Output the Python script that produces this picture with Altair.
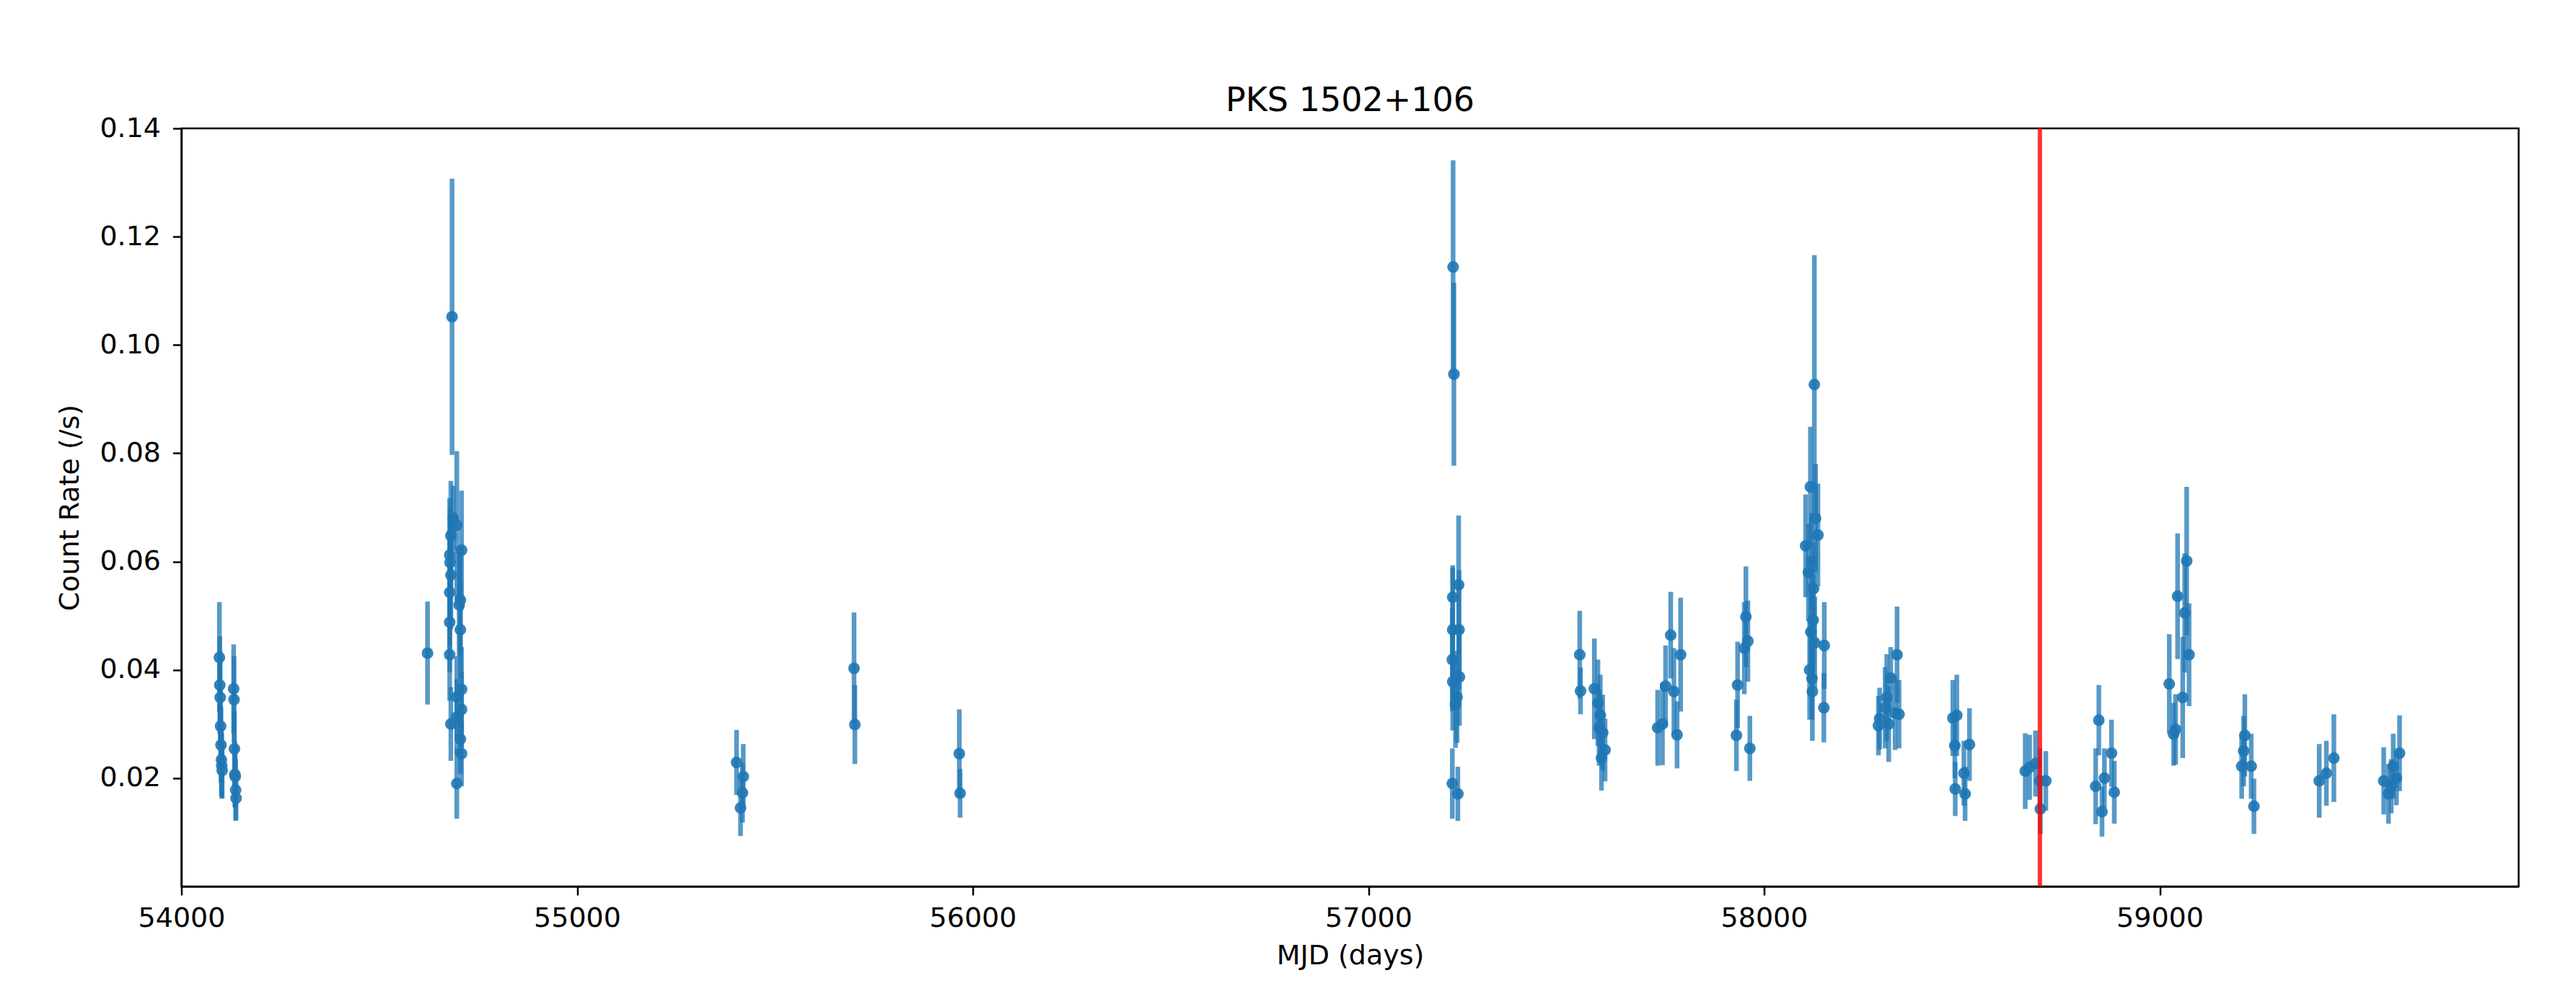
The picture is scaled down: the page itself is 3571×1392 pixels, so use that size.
import altair as alt
import pandas as pd

mjd = [
    54096, 54097, 54098, 54099, 54100, 54101, 54102, 54103,
    54132, 54133, 54134, 54135, 54136, 54137, 54138,
    54622,
    54684, 54681, 54687, 54696, 54708, 54678, 54679, 54681, 54678, 54705, 54702,
    54678, 54705, 54678, 54708, 54696, 54708, 54696, 54681, 54705, 54708, 54696,
    55403, 55420, 55418, 55413,
    55700, 55702,
    55966, 55968,
    57214, 57216, 57228, 57213, 57229, 57213, 57212, 57230, 57213, 57224, 57220, 57212, 57226,
    57534, 57536,
    57571, 57580, 57586, 57583, 57592, 57598, 57589,
    57731, 57743, 57751, 57764, 57772, 57780, 57789,
    57933, 57954, 57959, 57930, 57964, 57950,
    58127, 58117, 58130, 58136, 58105, 58120, 58112, 58125, 58124, 58152, 58121, 58151,
    58118, 58128, 58115, 58122,
    58289, 58292, 58306, 58310, 58315, 58320, 58336, 58341, 58331,
    58477, 58487, 58482, 58519, 58483, 58505, 58508,
    58660, 58671, 58686, 58697, 58712, 58698,
    58846, 58838, 58854, 58860, 58878, 58885,
    59024, 59035, 59045, 59063, 59068, 59074, 59058, 59040,
    59215, 59207, 59231, 59238, 59212,
    59403, 59421, 59440,
    59566, 59578, 59590, 59606, 59598, 59585,
]
rate = [
    0.0423, 0.0372, 0.0349, 0.0296, 0.0261, 0.0234, 0.0223, 0.0214,
    0.0365, 0.0345, 0.0254, 0.0207, 0.0203, 0.0178, 0.0163,
    0.0431,
    0.1052, 0.0648, 0.0680, 0.0667, 0.0621, 0.0612, 0.0598, 0.0575, 0.0543, 0.0529, 0.0520,
    0.0488, 0.0474, 0.0428, 0.0364, 0.0350, 0.0327, 0.0313, 0.0300, 0.0272, 0.0245, 0.0190,
    0.0229, 0.0203, 0.0173, 0.0145,
    0.0403, 0.0299,
    0.0245, 0.0172,
    0.1144, 0.0946, 0.0557, 0.0534, 0.0474, 0.0474, 0.0419, 0.0387, 0.0378, 0.0350, 0.0336, 0.0190, 0.0171,
    0.0428, 0.0361,
    0.0365, 0.0339, 0.0316, 0.0293, 0.0284, 0.0252, 0.0237,
    0.0293, 0.0300, 0.0370, 0.0464, 0.0360, 0.0280, 0.0428,
    0.0372, 0.0498, 0.0453, 0.0279, 0.0255, 0.0440,
    0.0927, 0.0738, 0.0680, 0.0649, 0.0629, 0.0600, 0.0580, 0.0550, 0.0492, 0.0445, 0.0384, 0.0330,
    0.0470, 0.0450, 0.0400, 0.0360,
    0.0297, 0.0310, 0.0330, 0.0349, 0.0300, 0.0385, 0.0428, 0.0318, 0.0320,
    0.0311, 0.0316, 0.0260, 0.0262, 0.0180, 0.0209, 0.0171,
    0.0213, 0.0220, 0.0227, 0.0195, 0.0195, 0.0143,
    0.0307, 0.0185, 0.0138, 0.0200, 0.0246, 0.0174,
    0.0374, 0.0281, 0.0536, 0.0505, 0.0601, 0.0428, 0.0349, 0.0290,
    0.0279, 0.0222, 0.0222, 0.0148, 0.0250,
    0.0195, 0.0209, 0.0237,
    0.0195, 0.0171, 0.0222, 0.0246, 0.0200, 0.0185,
]
err = [
    0.0102, 0.0090, 0.0085, 0.0075, 0.0070, 0.0068, 0.0060, 0.0052,
    0.0082, 0.0080, 0.0070, 0.0060, 0.0058, 0.0057, 0.0040,
    0.0095,
    0.0255, 0.0101, 0.0060, 0.0137, 0.0110, 0.0105, 0.0100, 0.0100, 0.0098, 0.0098, 0.0095,
    0.0092, 0.0090, 0.0085, 0.0078, 0.0075, 0.0070, 0.0070, 0.0068, 0.0064, 0.0060, 0.0065,
    0.0060, 0.0060, 0.0055, 0.0052,
    0.0103, 0.0073,
    0.0082, 0.0045,
    0.0197, 0.0169, 0.0128, 0.0055, 0.0110, 0.0119, 0.0095, 0.0090, 0.0090, 0.0085, 0.0080, 0.0065, 0.0050,
    0.0081, 0.0043,
    0.0093, 0.0080, 0.0075, 0.0070, 0.0070, 0.0058, 0.0060,
    0.0070, 0.0076, 0.0075, 0.0080, 0.0080, 0.0062, 0.0105,
    0.0080, 0.0093, 0.0075, 0.0066, 0.0060, 0.0085,
    0.0239, 0.0111, 0.0100, 0.0095, 0.0095, 0.0090, 0.0090, 0.0085, 0.0085, 0.0080, 0.0076, 0.0064,
    0.0090, 0.0085, 0.0092, 0.0091,
    0.0055, 0.0057, 0.0075, 0.0080, 0.0070, 0.0057, 0.0089, 0.0063, 0.0068,
    0.0070, 0.0075, 0.0060, 0.0067, 0.0050, 0.0060, 0.0050,
    0.0070, 0.0060, 0.0061, 0.0060, 0.0055, 0.0046,
    0.0065, 0.0070, 0.0046, 0.0055, 0.0062, 0.0058,
    0.0092, 0.0058, 0.0116, 0.0110, 0.0137, 0.0095, 0.0112, 0.0065,
    0.0076, 0.0060, 0.0060, 0.0051, 0.0065,
    0.0068, 0.0060, 0.0081,
    0.0062, 0.0055, 0.0060, 0.0070, 0.0050, 0.0050,
]
event_mjd = [58697]

x_ticks = [54000, 55000, 56000, 57000, 58000, 59000]
y_ticks = [0.02, 0.04, 0.06, 0.08, 0.10, 0.12, 0.14]

df = pd.DataFrame({"mjd": mjd, "rate": rate, "err": err})
ev = pd.DataFrame({"mjd": event_mjd})

FONT = "DejaVu Sans"
BLUE = "#1f77b4"

xscale = alt.Scale(domain=[54000, 59907], nice=False, zero=False)
yscale = alt.Scale(domain=[0, 0.14], nice=False, zero=False)

xaxis = alt.Axis(values=x_ticks, format="d", title="MJD (days)", grid=False,
                 labelPadding=13, titlePadding=14, labelFlush=False)
yaxis = alt.Axis(values=y_ticks, format=".2f", title="Count Rate (/s)", grid=False,
                 labelPadding=17, titlePadding=21, labelFlush=False)

base = alt.Chart(df).transform_calculate(
    lo="datum.rate - datum.err", hi="datum.rate + datum.err"
)

bars = base.mark_rule(color=BLUE, strokeWidth=6.5, opacity=0.75).encode(
    x=alt.X("mjd:Q", scale=xscale, axis=xaxis),
    y=alt.Y("lo:Q", scale=yscale, axis=yaxis),
    y2="hi:Q",
)

points = base.mark_circle(color=BLUE, size=260, opacity=0.9).encode(
    x=alt.X("mjd:Q", scale=xscale),
    y=alt.Y("rate:Q", scale=yscale),
)

vline = alt.Chart(ev).mark_rule(color="#ff0000", strokeWidth=6, opacity=0.8).encode(
    x=alt.X("mjd:Q", scale=xscale)
)

chart = alt.layer(bars, points, vline).properties(
    width=3240,
    height=1051,
    title=alt.TitleParams("PKS 1502+106", font=FONT, fontSize=46, fontWeight="normal",
                          color="black", offset=-5),
    autosize=alt.AutoSizeParams(type="none"),
    padding={"left": 243.5, "top": 170, "right": 70, "bottom": 150},
).configure(
    background="white",
).configure_view(
    stroke="black", strokeWidth=2.5,
).configure_axis(
    labelFont=FONT, titleFont=FONT, labelFontSize=38, titleFontSize=38,
    labelColor="black", titleColor="black", titleFontWeight="normal",
    domainColor="black", domainWidth=2.5, tickColor="black", tickWidth=2.5, tickSize=12,
)

chart.save("out.html", embed_options={"renderer": "svg", "actions": False})
